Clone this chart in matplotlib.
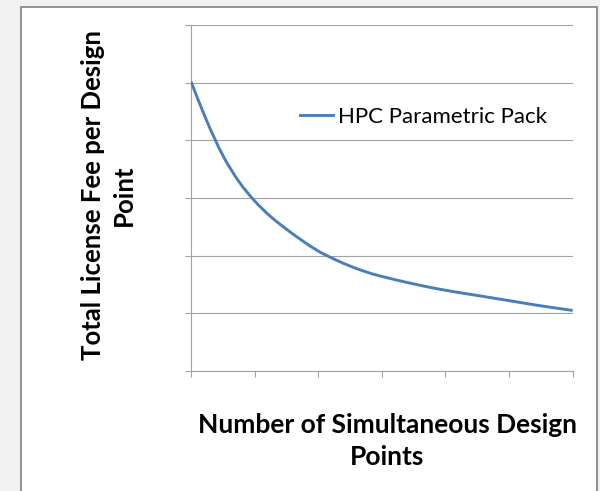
import matplotlib
matplotlib.use("Agg")
import matplotlib.pyplot as plt
from matplotlib.patches import Rectangle, PathPatch
from matplotlib.path import Path
from matplotlib.lines import Line2D

# values (grid units, no tick labels shown)
design_points = [0, 0.25, 0.5, 0.75, 1.0, 1.25, 1.5, 1.75, 2.0, 2.25,
                 2.5, 2.75, 3.0, 3.5, 4.0, 4.5, 5.0, 5.5, 6.0]
fee_per_point = [5.02, 4.33, 3.74, 3.29, 2.95, 2.68, 2.46, 2.26, 2.08, 1.94,
                 1.82, 1.72, 1.64, 1.51, 1.40, 1.31, 1.22, 1.13, 1.05]
series_name = "HPC Parametric Pack"
x_title = "Number of Simultaneous Design\nPoints"
y_title = "Total License Fee per Design\nPoint"

LINE_COL = '#4a7ebb'
GRID_COL = '#a3a3a3'


def smooth_path(xs, ys):
    """Excel-style smoothed line: catmull-rom segments as cubic beziers."""
    pts = list(zip(xs, ys))
    verts = [pts[0]]
    codes = [Path.MOVETO]
    for i in range(len(pts) - 1):
        p0 = pts[max(i - 1, 0)]
        p1 = pts[i]
        p2 = pts[i + 1]
        p3 = pts[min(i + 2, len(pts) - 1)]
        c1 = (p1[0] + (p2[0] - p0[0]) / 6, p1[1] + (p2[1] - p0[1]) / 6)
        c2 = (p2[0] - (p3[0] - p1[0]) / 6, p2[1] - (p3[1] - p1[1]) / 6)
        verts += [c1, c2, p2]
        codes += [Path.CURVE4] * 3
    return Path(verts, codes)


W, H = 600, 491
plt.rcParams['font.family'] = ['Lato', 'DejaVu Sans']

fig = plt.figure(figsize=(W / 100, H / 100), dpi=100)
fig.patch.set_facecolor('#f1f1f1')

# chart frame (pixel values converted to figure fractions)
fig.patches.append(Rectangle((21 / W, -0.05), (597 - 21) / W, 1.05 - 7 / H,
                             transform=fig.transFigure, facecolor='white',
                             edgecolor='#8a8a8a', linewidth=1.3, zorder=-1))

left, right, top, bottom = 191, 572.7, 25, 371
ax = fig.add_axes([left / W, 1 - bottom / H, (right - left) / W, (bottom - top) / H])
ax.set_facecolor('none')
ax.set_zorder(2)

ax.add_patch(PathPatch(smooth_path(design_points, fee_per_point), fill=False,
                       edgecolor=LINE_COL, lw=2.1, capstyle='butt', zorder=3))

ax.set_xlim(0, 6)
ax.set_ylim(0, 6)
ax.set_xticks(range(7))
ax.set_yticks(range(7))
ax.set_xticklabels([])
ax.set_yticklabels([])
ax.tick_params(direction='out', length=4, width=0.8, color=GRID_COL)
ax.yaxis.grid(True, color=GRID_COL, lw=0.8)
ax.set_axisbelow(True)
for side in ['top', 'right']:
    ax.spines[side].set_visible(False)
for side in ['left', 'bottom']:
    ax.spines[side].set_color(GRID_COL)
    ax.spines[side].set_linewidth(0.8)

handle = Line2D([], [], color=LINE_COL, lw=2.1)
ax.legend([handle], [series_name], loc='center left',
          bbox_to_anchor=(0.2856, 0.735), frameon=False, fontsize=16,
          borderpad=0, borderaxespad=0, handlelength=1.5, handletextpad=0.2)

ax.set_xlabel(x_title, fontsize=19, fontweight='bold', linespacing=1.38)
ax.xaxis.set_label_coords((387 - left) / (right - left), (bottom - 413) / (bottom - top))
ax.set_ylabel(y_title, fontsize=18.5, fontweight='bold', linespacing=1.35)
ax.yaxis.set_label_coords((136 - left) / (right - left), (bottom - 195.5) / (bottom - top))

fig.savefig('out.png', dpi=100)
